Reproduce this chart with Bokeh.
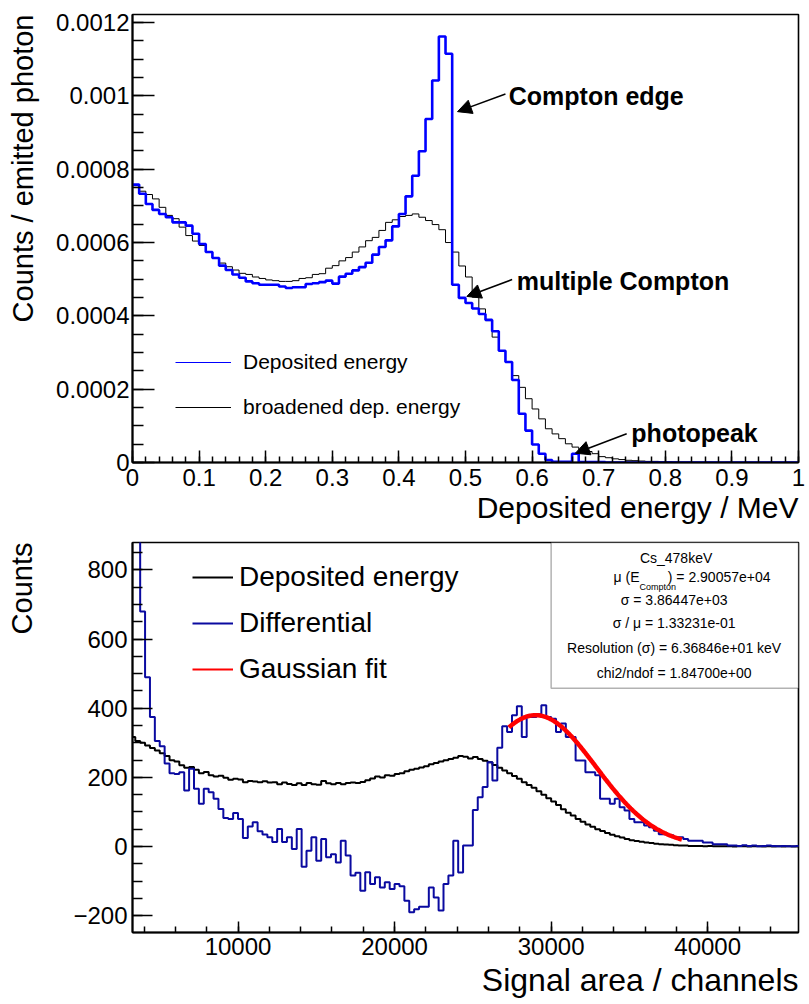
import numpy as np
from bokeh.plotting import figure
from bokeh.layouts import column
from bokeh.models import (Range1d, Legend, LegendItem, Label, Arrow, NormalHead, Title,
                          BoxAnnotation, SingleIntervalTicker, CustomJSTickFormatter)
from bokeh.embed import file_html
from bokeh.resources import INLINE

FONT = "Liberation Sans"
BLUE_TOP = "#0000ff"
BLUE_BOT = "#0a0aa0"
NAN = float("nan")

# ---------------- top panel data (bins of 0.01 MeV from 0 to 1) ----------------
top_x0 = 0.0
top_bin_width = 0.01
top_scale = 1e-4
top_deposited = [
    7.58, 7.33, 7.05, 6.89, 6.78, 6.69, 6.55, 6.55, 6.46, 6.24,
    5.96, 5.74, 5.58, 5.37, 5.25, 5.13, 5.04, 4.94, 4.89, 4.85,
    4.85, 4.85, 4.80, 4.76, 4.78, 4.78, 4.87, 4.89, 4.92, 4.96,
    4.88, 5.07, 5.15, 5.24, 5.33, 5.45, 5.67, 5.88, 6.06, 6.44,
    6.78, 7.26, 7.82, 8.49, 9.37, 10.42, 11.62, 11.15, 4.85, 4.49,
    4.35, 4.20, 4.05, 3.89, 3.58, 3.05, 2.74, 2.25, 1.33, 0.87,
    0.49, 0.24, 0.07, 0.02, 0.02, 0.02, 0.24, 0.01, 0.01, 0.01,
    0.01, 0.0, 0.0, 0.0, 0.0, 0.0, 0.0, 0.0, 0.0, 0.0,
    0.0, 0.0, 0.0, 0.0, 0.0, 0.0, 0.0, 0.0, 0.0, 0.0,
    0.0, 0.0, 0.0, 0.0, 0.0, 0.0, 0.0, 0.0, 0.0, 0.0,
]
top_broadened = [
    7.55, 7.40, 7.31, 7.19, 6.96, 6.74, 6.65, 6.42, 6.19, 6.04,
    5.92, 5.74, 5.57, 5.44, 5.34, 5.25, 5.16, 5.13, 5.06, 5.02,
    4.98, 4.96, 4.94, 4.94, 4.96, 5.02, 5.04, 5.13, 5.15, 5.30,
    5.37, 5.50, 5.59, 5.74, 5.88, 6.05, 6.14, 6.33, 6.55, 6.62,
    6.71, 6.74, 6.78, 6.69, 6.60, 6.49, 6.35, 6.00, 5.74, 5.36,
    5.06, 4.51, 4.19, 3.87, 3.42, 3.05, 2.74, 2.37, 2.05, 1.74,
    1.46, 1.19, 0.92, 0.78, 0.65, 0.51, 0.42, 0.35, 0.30, 0.24,
    0.16, 0.13, 0.10, 0.08, 0.06, 0.05, 0.04, 0.03, 0.03, 0.02,
    0.02, 0.015, 0.01, 0.01, 0.005, 0.005, 0.005, 0.005, 0.0, 0.005,
    0.0, 0.0, 0.0, 0.0, 0.0, 0.0, 0.0, 0.0, 0.0, 0.0,
]
top_legend_labels = ["Deposited energy", "broadened dep. energy"]
top_xtitle = "Deposited energy / MeV"
top_ytitle = "Counts / emitted photon"

# ---------------- bottom panel data (bins of 312.5 channels from 3125) ----------------
bot_x0 = 3125.0
bot_bin_width = 312.5
bot_deposited = [
    317, 305, 300, 292, 285, 278, 270, 262, 250, 246,
    235, 228, 230, 222, 212, 216, 206, 203, 205, 199,
    193, 196, 194, 186, 190, 188, 186, 189, 185, 186,
    180, 185, 181, 178, 183, 178, 184, 180, 179, 190,
    183, 180, 184, 180, 184, 185, 184, 187, 192, 197,
    203, 200, 206, 205, 210, 212, 218, 222, 225, 229,
    232, 238, 242, 246, 250, 253, 257, 262, 260, 255,
    259, 253, 248, 244, 236, 228, 220, 212, 204, 196,
    186, 178, 170, 160, 150, 140, 130, 120, 108, 98,
    90, 80, 72, 64, 57, 50, 45, 39, 34, 30,
    26, 22, 18, 16, 14, 12, 10, 8, 7, 6,
    5, 4, 3, 3, 2, 2, 2, 1, 2, 1,
    1, 1, 1, 0, 1, 1, 0, 1, 1, 0,
    1, 0, 1, 0, 1, 0, 0, 1,
]
bot_differential = [
    1150, 960, 680, 490, 375, 305, 290, 240, 212, 210,
    215, 162, 225, 167, 124, 167, 157, 138, 109, 83,
    80, 97, 80, 25, 58, 70, 44, 35, 27, 13,
    51, 13, 27, -7, 51, -58, -12, 27, -41, 22,
    -31, -22, -46, 17, -26, -84, -76, -128, -74, -108,
    -89, -118, -103, -123, -108, -115, -157, -190, -181, -174,
    -174, -118, -147, -185, -108, -84, 17, -75, 3, 3,
    106, 143, 172, 244, 191, 286, 348, 331, 380, 406,
    317, 375, 375, 383, 409, 375, 370, 331, 356, 317,
    317, 249, 249, 215, 215, 206, 138, 138, 124, 138,
    114, 104, 80, 70, 70, 61, 56, 46, 36, 36,
    33, 27, 27, 22, 17, 17, 17, 12, 12, 7,
    7, 7, 3, 3, 2, 4, 2, 3, 1, 2,
    3, 2, 1, 2, 1, 1, 2, 1,
]
# Gaussian fit result (parameters from the stats box; amplitude)
fit_mu = 2.90057e4
fit_sigma = 3.86447e3
fit_amplitude = 380.0
fit_range = (27300.0, 38350.0)
bot_legend_labels = ["Deposited energy", "Differential", "Gaussian fit"]
bot_xtitle = "Signal area / channels"
bot_ytitle = "Counts"
stats_lines = ["Cs_478keV", "\u03c3 =  3.86447e+03", "\u03c3 / \u03bc =  1.33231e-01",
               "Resolution (\u03c3) =  6.36846e+01 keV", "chi2/ndof =  1.84700e+00"]


def step_xy(x0, w, vals):
    edges = x0 + w * np.arange(len(vals) + 1)
    ys = list(vals) + [vals[-1]]
    return edges, ys


def style(p, xmaj, xmin, ymaj, ymin):
    p.outline_line_color = "black"
    p.outline_line_width = 1.6
    p.xgrid.visible = False
    p.ygrid.visible = False
    p.background_fill_color = "white"
    for ax in (p.xaxis[0], p.yaxis[0]):
        ax.axis_line_width = 2
        ax.axis_line_color = "black"
        ax.major_tick_out = 0
        ax.minor_tick_out = 0
        ax.major_tick_line_width = 1.5
        ax.minor_tick_line_width = 1.5
        ax.major_tick_line_color = "black"
        ax.minor_tick_line_color = "black"
        ax.major_label_text_font = FONT
        ax.major_label_text_font_size = "24px"
        ax.major_label_text_color = "black"
    p.xaxis[0].major_tick_in = xmaj
    p.xaxis[0].minor_tick_in = xmin
    p.yaxis[0].major_tick_in = ymaj
    p.yaxis[0].minor_tick_in = ymin


def make_legend(items, loc, spacing, gw, gh, standoff, size):
    return Legend(items=items, location=loc, border_line_color=None, background_fill_alpha=0,
                  padding=0, margin=0, spacing=spacing, glyph_width=gw, glyph_height=gh,
                  label_height=gh, label_standoff=standoff, label_text_font=FONT,
                  label_text_font_size=size, label_text_color="black")


def side_title(text, size, standoff):
    return Title(text=text, align="right", text_font=FONT, text_font_size=size,
                 text_font_style="normal", text_color="black", standoff=standoff, offset=0)


def spacer(gap):
    # invisible side panel used only to push the y title outward
    return Title(text=" ", text_font_size="1px", standoff=gap, text_color="white")


# ======================= top figure =======================
top = figure(width=809, height=528, output_backend="svg", toolbar_location=None,
             x_range=Range1d(0, 1), y_range=Range1d(0, 0.001222),
             min_border_left=132, min_border_right=11, min_border_top=14, min_border_bottom=66)
style(top, 12, 6, 22, 11)
top.xaxis[0].ticker = SingleIntervalTicker(interval=0.1, num_minor_ticks=5)
top.yaxis[0].ticker = SingleIntervalTicker(interval=0.0002, num_minor_ticks=4)
top.xaxis[0].formatter = CustomJSTickFormatter(
    code="return tick == 0 ? '0' : String(parseFloat(tick.toPrecision(4)));")
top.yaxis[0].formatter = CustomJSTickFormatter(
    code="return tick == 0 ? '0' : String(parseFloat(tick.toPrecision(4)));")
top.xaxis[0].major_label_standoff = 6
top.yaxis[0].major_label_standoff = 3
top.add_layout(side_title(top_xtitle, "30px", 0), "below")
top.add_layout(spacer(12), "left")
top.add_layout(side_title(top_ytitle, "29px", 0), "left")

bx, by = step_xy(top_x0, top_bin_width, [v * top_scale for v in top_broadened])
top.step(bx, by, mode="after", line_color="black", line_width=1)
dx, dy = step_xy(top_x0, top_bin_width, [v * top_scale for v in top_deposited])
top.step(dx, dy, mode="after", line_color=BLUE_TOP, line_width=2.6)

lg1 = top.line(x=[NAN], y=[NAN], line_color=BLUE_TOP, line_width=1)
lg2 = top.line(x=[NAN], y=[NAN], line_color="black", line_width=1)
top.add_layout(make_legend([LegendItem(label=top_legend_labels[0], renderers=[lg1]),
                            LegendItem(label=top_legend_labels[1], renderers=[lg2])],
                           (43, 43), 21, 56, 24, 12, "21px"))

notes = [("Compton edge", 0.565, 0.001001, 0.560, 0.001005, 0.488, 0.000957),
         ("multiple Compton", 0.577, 0.000496, 0.570, 0.000499, 0.502, 0.000453),
         ("photopeak", 0.749, 0.0000818, 0.742, 0.0000783, 0.665, 0.0000254)]
for txt, lx, ly, xs, ys, xe, ye in notes:
    top.add_layout(Label(x=lx, y=ly, text=txt, text_font=FONT, text_font_style="bold",
                         text_font_size="25px", text_baseline="middle", text_color="black"))
    top.add_layout(Arrow(end=NormalHead(size=14, fill_color="black", line_color="black"),
                         x_start=xs, y_start=ys, x_end=xe, y_end=ye,
                         line_color="black", line_width=1.5))

# ======================= bottom figure =======================
bot = figure(width=809, height=476, output_backend="svg", toolbar_location=None,
             x_range=Range1d(3260, 45800), y_range=Range1d(-248.5, 879.4),
             min_border_left=128, min_border_right=7, min_border_top=14, min_border_bottom=72)
style(bot, 11, 6, 20, 10)
bot.xaxis[0].ticker = SingleIntervalTicker(interval=10000, num_minor_ticks=5)
bot.yaxis[0].ticker = SingleIntervalTicker(interval=200, num_minor_ticks=4)
bot.xaxis[0].formatter = CustomJSTickFormatter(code="return String(tick);")
bot.yaxis[0].formatter = CustomJSTickFormatter(
    code="return tick < 0 ? '\u2212' + String(Math.abs(tick)) : String(tick);")
bot.xaxis[0].major_label_standoff = 5
bot.yaxis[0].major_label_standoff = 5
bot.add_layout(side_title(bot_xtitle, "32px", 4), "below")
bot.add_layout(spacer(30), "left")
bot.add_layout(side_title(bot_ytitle, "29px", 0), "left")

ex, ey = step_xy(bot_x0, bot_bin_width, bot_deposited)
bot.step(ex, ey, mode="after", line_color="black", line_width=2)
fx, fy = step_xy(bot_x0, bot_bin_width, bot_differential)
bot.step(fx, fy, mode="after", line_color=BLUE_BOT, line_width=2)
gx = np.linspace(fit_range[0], fit_range[1], 200)
gy = fit_amplitude * np.exp(-0.5 * ((gx - fit_mu) / fit_sigma) ** 2)
bot.line(gx, gy, line_color="#ff0000", line_width=4.5)

l1 = bot.line(x=[NAN], y=[NAN], line_color="black", line_width=2)
l2 = bot.line(x=[NAN], y=[NAN], line_color=BLUE_BOT, line_width=2)
l3 = bot.line(x=[NAN], y=[NAN], line_color="#ff0000", line_width=2)
bot.add_layout(make_legend([LegendItem(label=bot_legend_labels[0], renderers=[l1]),
                            LegendItem(label=bot_legend_labels[1], renderers=[l2]),
                            LegendItem(label=bot_legend_labels[2], renderers=[l3])],
                           (60, 247), 14, 41, 32, 6, "28px"))

# stats box
bot.add_layout(BoxAnnotation(left=30000, right=45800, top=879.4, bottom=458,
                             fill_color="white", fill_alpha=1.0,
                             line_color="black", line_width=1.5))
cx = 37980
stat_y = [833.8, 712.0, 645.5, 573.2, 500.7]
for txt, yy in zip(stats_lines, stat_y):
    bot.add_layout(Label(x=cx, y=yy, text=txt, text_font=FONT, text_font_size="14px",
                         text_align="center", text_baseline="middle", text_color="black"))
bot.add_layout(Label(x=35643, y=778.7, text="\u03bc (E", text_font=FONT, text_font_size="14px",
                     text_align="right", text_baseline="middle", text_color="black"))
bot.add_layout(Label(x=35643, y=751.0, text="Compton", text_font=FONT, text_font_size="9px",
                     text_align="left", text_baseline="middle", text_color="black"))
bot.add_layout(Label(x=37450, y=778.7, text=") =  2.90057e+04", text_font=FONT,
                     text_font_size="14px", text_align="left", text_baseline="middle",
                     text_color="black"))

layout = column(top, bot)
open("out.html", "w").write(file_html(layout, INLINE))
